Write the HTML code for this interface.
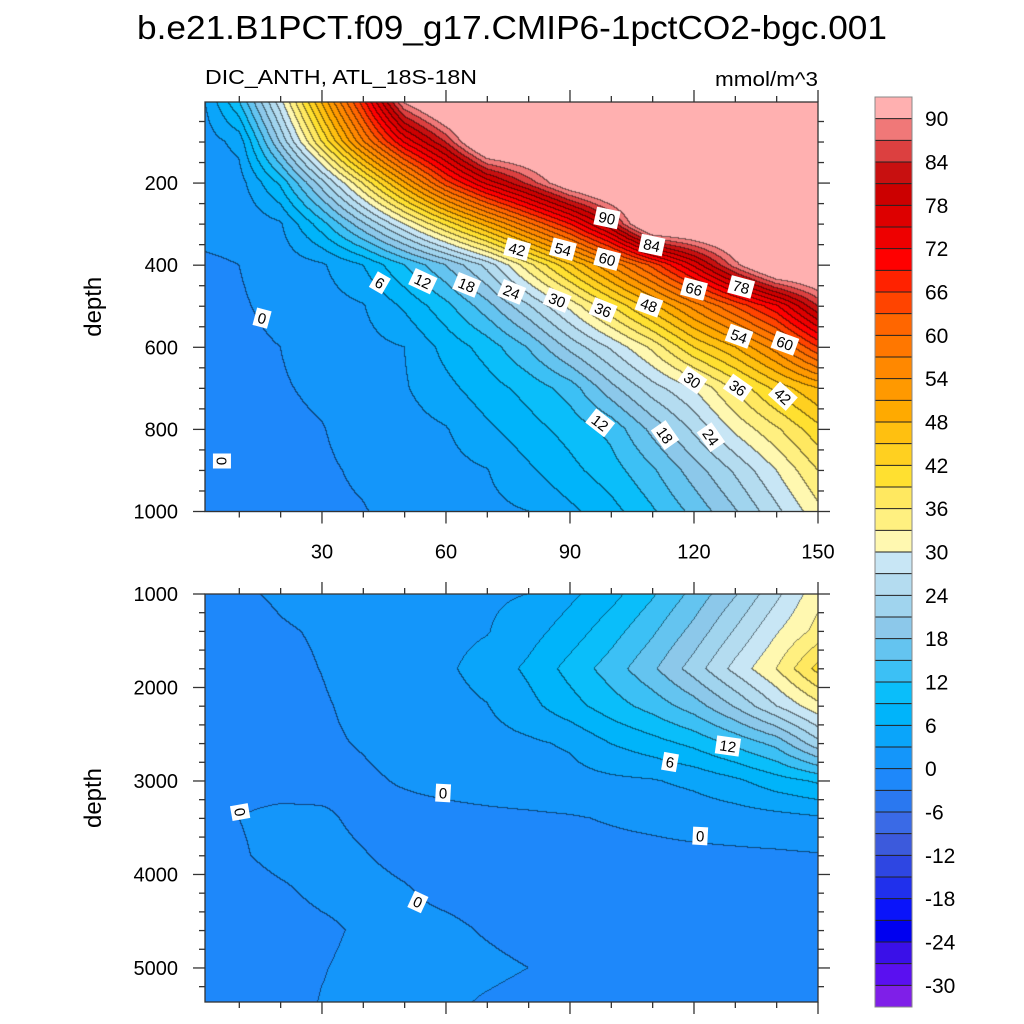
<!DOCTYPE html>
<html><head><meta charset="utf-8">
<style>
html,body{margin:0;padding:0;background:#fff;}
#wrap{position:relative;width:1024px;height:1024px;overflow:hidden;font-family:"Liberation Sans",sans-serif;}
canvas,svg{position:absolute;left:0;top:0;}
</style></head>
<body>
<div id="wrap">
<canvas id="cv" width="1024" height="1024"></canvas>
<svg id="sv" width="1024" height="1024" xmlns="http://www.w3.org/2000/svg"></svg>
</div>
<script>
// ---- data ----
const gridX = [0,10,20,30,40,50,60,70,80,90,100,110,120,130,140,150];
const topDepths = [0,100,200,300,400,500,600,700,800,900,1000];
const topValues = [
[1,12,29,48.5,68,91,100,100,100,100,100,100,100,100,100,100],
[1,4,21.3,38.9,56.6,72.5,84.2,100,100,100,100,100,100,100,100,100],
[0.5,1.6,9.6,22.7,36.3,50.5,64.7,76,85,95,100,100,100,100,100,100],
[0.5,0.6,2.6,10.7,20.4,30,39.8,49.5,59.3,69,81.4,100,100,100,100,100],
[-0.3,0,1.3,2.6,6,12,18,25,34.9,44.6,54.4,64.1,75.6,88.7,100,100],
[-0.5,-0.3,0.7,1.8,2.8,6.5,11,16.8,23.6,30.8,38.9,47,55.2,63.3,71.5,84],
[-0.5,-0.6,0,1,2,3,7,10.3,15.2,21.9,27.5,33.8,42,48,55.7,66],
[-0.5,-0.8,-0.2,0.4,1.6,2.7,5.1,7.7,10.1,13.3,20,25.7,30,36.5,43,48],
[-0.5,-1,-0.5,-0.1,0.9,1.8,2.8,5.4,7.8,10.1,12.9,18.9,24.6,30.7,35.5,41],
[-0.5,-1,-0.7,-0.3,0.3,1.2,2.0,2.9,5.5,8.1,10.7,14.5,19.5,24.5,30,36],
[-0.5,-1,-0.8,-0.4,-0.1,0.6,1.4,2.2,3,5.3,7.9,11.6,15.9,20.7,26.2,32]
];
const botDepths = [1000,1400,1800,2200,2600,3000,3400,3800,4200,4600,5000,5400];
const botValues = [
[-0.5,-0.3,0.3,0.8,1.2,1.6,2,2.5,3,5.3,7.9,11.6,15.9,20.7,26.2,32],
[-0.7,-1,-0.2,0.2,0.86,1.5,2.2,2.85,4.75,7.4,10.7,14.5,19,24.3,29.7,34],
[-0.7,-1,-0.5,0.04,0.88,1.7,2.56,4.1,6.6,10,13.4,17.4,22.4,28,33,40],
[-0.7,-1,-0.7,-0.2,0.49,1.3,2.0,2.9,5.05,7.8,10.6,13.2,16.5,21.3,27,32],
[-0.7,-1,-0.8,-0.3,0.13,0.72,1.3,1.9,2.5,3.4,6.05,7.8,9.8,12.75,16,23],
[-0.6,-0.6,-0.8,-0.6,-0.3,0.17,0.6,1.04,1.48,1.9,2.4,2.8,3.75,5.4,7.7,9.5],
[-0.5,0,0.5,0.3,-0.4,-0.6,-0.6,-0.5,-0.4,-0.2,0.2,0.6,1.1,1.5,2.0,2.6],
[-0.5,-0.2,0.5,0.6,0.1,-0.5,-0.8,-0.9,-0.9,-0.8,-0.8,-0.7,-0.6,-0.5,-0.4,-0.2],
[-0.6,-0.8,-0.3,0.4,0.6,0.2,-0.5,-0.9,-0.9,-0.9,-0.9,-0.9,-0.8,-0.8,-0.7,-0.7],
[-0.6,-0.9,-0.9,-0.4,0.3,0.6,0.5,-0.2,-0.8,-1,-1,-1,-1,-1,-0.9,-0.9],
[-0.6,-0.9,-0.8,-0.1,0.5,0.7,0.7,0.5,0,-0.6,-1,-1,-1,-1,-1,-1],
[-0.6,-0.9,-0.8,0.1,0.5,0.6,0.4,-0.3,-0.8,-1,-1,-1,-1,-1,-1,-1]
];
const levelMin = -30, levelStep = 3;
const bandColors = ["#7F1FE8","#5A10F0","#3A10E8","#0000F0","#0A14FA","#2030EC","#2E46E2","#3C5ADC","#3A6AE6","#2A78F0","#1E88FA","#1496FA","#0AA5FA","#00B4FA","#0ABEFA","#3CC0F5","#64C4F0","#8CC8EA","#A0D4EE","#B4DCF0","#C8E6F5","#FFF8B0","#FFF080","#FFE860","#FFE030","#FFD020","#FFC010","#FFAA00","#FF9900","#FF8800","#FF7700","#FF6600","#FF4400","#FF2200","#FF0000","#EE0000","#DD0000","#CC0000","#C81010","#DC4040","#F07878","#FFB0B0"];
const cbLabels = [90,84,78,72,66,60,54,48,42,36,30,24,18,12,6,0,-6,-12,-18,-24,-30];
const topTicksMajor = [200,400,600,800,1000];
const botTicksMajor = [1000,2000,3000,4000,5000];
const xTicksMajor = [30,60,90,120,150];
const topLabels = [
 [98.95,285,"90",12],[109.8,351,"84",12],[77.2,361,"42",15],[88.3,361,"54",15],[99,385,"60",15],
 [120,458,"66",15],[131.4,453,"78",15],[44,443,"6",30],[54.4,439,"12",25],[65,448,"18",22],
 [75.9,465,"24",22],[86.9,485,"30",22],[98,509,"36",22],[109.1,497,"48",20],[130.9,573,"54",20],
 [142,590,"60",20],[119.6,680,"30",35],[130.6,699,"36",35],[141.5,719,"42",42],[97.3,784,"12",38],
 [113,814,"18",55],[124.1,819,"24",55],[15.5,529,"0",15],[5.8,877,"0",90]
];
const botLabels = [
 [128.2,2626,"12",8],[114.2,2797,"6",10],[59.3,3128,"0",3],[121.5,3588,"0",3],[10.2,3332,"0",80],[53.2,4294,"0",25]
];
// ---- scales ----
const X0=205, X1=818, xMin=1.7, xMax=150;
const xS = x => X0 + (x-xMin)/(xMax-xMin)*(X1-X0);
const xInv = p => xMin + (p-X0)/(X1-X0)*(xMax-xMin);
const TY0=102, TY1=511.5, tdMin=2.5, tdMax=1000;
const tyS = d => TY0 + (d-tdMin)/(tdMax-tdMin)*(TY1-TY0);
const tyInv = p => tdMin + (p-TY0)/(TY1-TY0)*(tdMax-tdMin);
const BY0=594, BY1=1002, bdMin=1000, bdMax=5364;
const byS = d => BY0 + (d-bdMin)/(bdMax-bdMin)*(BY1-BY0);
const byInv = p => bdMin + (p-BY0)/(BY1-BY0)*(bdMax-bdMin);

function interp(depths, vals, x, d){
  let i = Math.floor((x-gridX[0])/10); i=Math.max(0,Math.min(gridX.length-2,i));
  let tx = (x-gridX[i])/(gridX[i+1]-gridX[i]); tx=Math.max(0,Math.min(1,tx));
  let j=0; while(j<depths.length-2 && d>depths[j+1]) j++;
  let ty=(d-depths[j])/(depths[j+1]-depths[j]); ty=Math.max(0,Math.min(1,ty));
  const a=vals[j][i], b=vals[j][i+1], c=vals[j+1][i], e=vals[j+1][i+1];
  return (a*(1-tx)+b*tx)*(1-ty)+(c*(1-tx)+e*tx)*ty;
}
function band(v){ let k=Math.floor((v-levelMin)/levelStep)+1; return Math.max(0,Math.min(bandColors.length-1,k)); }
function hex(h){return [parseInt(h.substr(1,2),16),parseInt(h.substr(3,2),16),parseInt(h.substr(5,2),16)];}
const rgb = bandColors.map(hex);

const cv=document.getElementById('cv'); const ctx=cv.getContext('2d');
const img=ctx.createImageData(1024,1024);
function drawPanel(y0,y1,yInv,depths,vals){
  const px0=Math.round(X0), px1=Math.round(X1), py0=Math.round(y0), py1=Math.round(y1);
  const W=px1-px0, H=py1-py0; const B=new Int16Array(W*H);
  for(let r=0;r<H;r++){ const d=yInv(py0+r+0.5);
    for(let c=0;c<W;c++){ B[r*W+c]=band(interp(depths,vals,xInv(px0+c+0.5),d)); } }
  for(let r=0;r<H;r++) for(let c=0;c<W;c++){
    const k=B[r*W+c]; let col=rgb[k];
    let edge=false;
    if(c<W-1 && B[r*W+c+1]!==k) edge=true;
    if(r<H-1 && B[(r+1)*W+c]!==k) edge=true;
    const o=((py0+r)*1024+px0+c)*4;
    const f=edge?0.5:1;
    img.data[o]=col[0]*f; img.data[o+1]=col[1]*f; img.data[o+2]=col[2]*f; img.data[o+3]=255;
  }
}
drawPanel(TY0,TY1,tyInv,topDepths,topValues);
drawPanel(BY0,BY1,byInv,botDepths,botValues);
for(let i=0;i<1024*1024;i++){ if(img.data[i*4+3]===0){img.data[i*4]=255;img.data[i*4+1]=255;img.data[i*4+2]=255;img.data[i*4+3]=255;} }
ctx.putImageData(img,0,0);

// ---- svg overlay ----
const NS="http://www.w3.org/2000/svg"; const sv=document.getElementById('sv');
function mk(tag,attrs,parent){const e=document.createElementNS(NS,tag);for(const k in attrs)e.setAttribute(k,attrs[k]);(parent||sv).appendChild(e);return e;}
function txt(s,attrs,parent){const e=mk('text',attrs,parent);e.textContent=s;return e;}

let t=txt("b.e21.B1PCT.f09_g17.CMIP6-1pctCO2-bgc.001",{x:512,y:39,'text-anchor':'middle','font-size':33,'font-family':'Liberation Sans, sans-serif',textLength:750,lengthAdjust:'spacingAndGlyphs'});


t=txt("DIC_ANTH, ATL_18S-18N",{x:205,y:84,'font-size':20,'font-family':'Liberation Sans, sans-serif',textLength:272,lengthAdjust:'spacingAndGlyphs'});


t=txt("mmol/m^3",{x:818,y:86,'text-anchor':'end','font-size':20,'font-family':'Liberation Sans, sans-serif',textLength:103,lengthAdjust:'spacingAndGlyphs'});



function contourLabels(list,yS,name){
  const g=mk('g',{});
  
  
  list.forEach(L=>{
    const cx=xS(L[0]), cy=yS(L[1]);
    const w=L[2].length*9+6;
    const lg=mk('g',{transform:`translate(${cx},${cy}) rotate(${L[3]})`},g);
    
    
    mk('rect',{x:-w/2,y:-9,width:w,height:18,fill:'#fff'},lg);
    txt(L[2],{x:0,y:5.5,'text-anchor':'middle','font-size':15,'font-family':'Liberation Sans, sans-serif'},lg);
  });
}
contourLabels(topLabels,tyS,'top-contour-labels');
contourLabels(botLabels,byS,'bottom-contour-labels');

function frame(y0,y1,yS,dMin,dMax,major,minorStep,showX,name){
  const g=mk('g',{stroke:'#333','stroke-width':1.3,fill:'none'});
  
  
  mk('rect',{x:X0,y:y0,width:X1-X0,height:y1-y0},g);
  for(let x=10;x<=150;x+=10){
    const p=xS(x); const L=(x%30===0)?12:6;
    mk('line',{x1:p,y1:y1,x2:p,y2:y1+L},g);
    mk('line',{x1:p,y1:y0,x2:p,y2:y0-L},g);
  }
  for(let d=Math.ceil(dMin/minorStep)*minorStep; d<=dMax; d+=minorStep){
    const p=yS(d); const L=major.includes(d)?12:6;
    mk('line',{x1:X0,y1:p,x2:X0-L,y2:p},g);
    mk('line',{x1:X1,y1:p,x2:X1+L,y2:p},g);
  }
  major.forEach(d=>{
    const tl=txt(String(d),{x:178,y:yS(d)+7,'text-anchor':'end','font-size':20,'font-family':'Liberation Sans, sans-serif',fill:'#000',stroke:'none'});
    
    
  });
  if(showX){ xTicksMajor.forEach(x=>{
    const tl=txt(String(x),{x:xS(x),y:y1+47,'text-anchor':'middle','font-size':20,'font-family':'Liberation Sans, sans-serif',fill:'#000',stroke:'none'});
    
    
  });}
  const yl=txt("depth",{x:0,y:0,transform:`translate(101,${(y0+y1)/2}) rotate(-90)`,'text-anchor':'middle','font-size':24,'font-family':'Liberation Sans, sans-serif',fill:'#000',stroke:'none'});
  
  
}
frame(TY0,TY1,tyS,tdMin,tdMax,topTicksMajor,50,true,'top-panel-axes');
frame(BY0,BY1,byS,bdMin,bdMax,botTicksMajor,200,false,'bottom-panel-axes');

// colorbar
const CB={x:875,y0:97,y1:1007,w:37};
const cbg=mk('g',{});


const nb=bandColors.length, bh=(CB.y1-CB.y0)/nb;
for(let k=0;k<nb;k++){
  const idx=nb-1-k;
  const r=mk('rect',{x:CB.x,y:CB.y0+k*bh,width:CB.w,height:bh+0.5,fill:bandColors[idx]},cbg);
  
  
  if(k>0) mk('line',{x1:CB.x,y1:CB.y0+k*bh,x2:CB.x+CB.w,y2:CB.y0+k*bh,stroke:'#222','stroke-width':1},cbg);
}
mk('rect',{x:CB.x,y:CB.y0,width:CB.w,height:CB.y1-CB.y0,fill:'none',stroke:'#888','stroke-width':1},cbg);
const lvlY = v => CB.y0 + ((90 - v)/levelStep + 1)*bh;
cbLabels.forEach(v=>{
  const tl=txt(String(v),{x:925,y:lvlY(v)+7.5,'font-size':21,'font-family':'Liberation Sans, sans-serif'},cbg);
  
  
});
</script>
</body></html>
